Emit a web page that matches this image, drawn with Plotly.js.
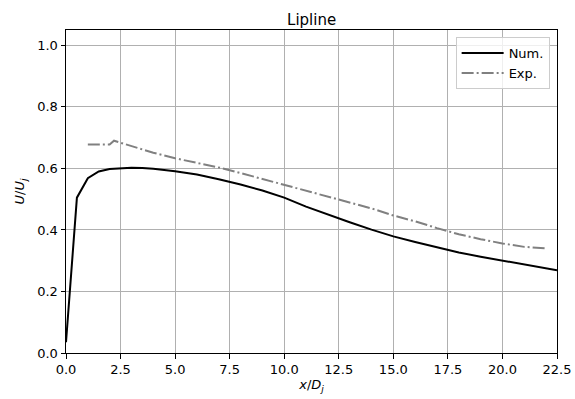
<!DOCTYPE html>
<html>
<head>
<meta charset="utf-8">
<script src="https://cdn.plot.ly/plotly-3.0.1.min.js"></script>
<style>html,body{margin:0;padding:0;background:#fff;}#chart{width:575px;height:399px;}</style>
</head>
<body>
<div id="chart"></div>
<script>
const numX = [0, 0.5, 1, 1.5, 2, 2.5, 3, 3.5, 4, 5, 6, 7, 7.5, 8, 9, 10, 11, 12, 12.5, 13, 14, 15, 16, 17, 17.5, 18, 19, 20, 21, 22, 22.5];
const numY = [0.035, 0.505, 0.568, 0.590, 0.598, 0.601, 0.602, 0.601, 0.599, 0.591, 0.580, 0.565, 0.557, 0.548, 0.528, 0.505, 0.476, 0.450, 0.438, 0.425, 0.401, 0.379, 0.361, 0.343, 0.335, 0.327, 0.313, 0.301, 0.289, 0.277, 0.269];
const expX = [1.0, 2.0, 2.2, 3, 4, 5, 6, 7, 8, 9, 10, 11, 12, 13, 14, 15, 16, 17, 18, 19, 20, 21, 22];
const expY = [0.678, 0.678, 0.690, 0.672, 0.651, 0.633, 0.618, 0.603, 0.585, 0.566, 0.545, 0.527, 0.508, 0.490, 0.470, 0.447, 0.428, 0.406, 0.386, 0.370, 0.356, 0.345, 0.340];
const xTicks = [0, 2.5, 5, 7.5, 10, 12.5, 15, 17.5, 20, 22.5];
const yTicks = [0, 0.2, 0.4, 0.6, 0.8, 1.0];

const font = 'DejaVu Sans, sans-serif';
const traces = [
  {x: numX, y: numY, mode: 'lines', name: 'Num.', line: {color: '#000000', width: 2}},
  {x: expX, y: expY, mode: 'lines', name: 'Exp.', line: {color: '#808080', width: 2, dash: '12px,3px,2px,3px'}}
];
const axisCommon = {
  showline: true, mirror: true, linecolor: '#000', linewidth: 1,
  ticks: 'outside', ticklen: 4.5, tickwidth: 1, tickcolor: '#000',
  showgrid: true, gridcolor: '#b0b0b0', gridwidth: 1,
  zeroline: false, tickfont: {family: font, size: 13, color: '#000'},
  tickformat: '.1f'
};
const layout = {
  width: 575, height: 399,
  margin: {l: 66, r: 18, t: 30, b: 46},
  paper_bgcolor: '#fff', plot_bgcolor: '#fff',
  font: {family: font, color: '#000'},
  title: {text: 'Lipline', font: {family: font, size: 15, color: '#000'}, x: 0.542, xanchor: 'center', y: 0.95, yanchor: 'middle'},
  xaxis: Object.assign({}, axisCommon, {
    range: [0, 22.5], tickmode: 'array', tickvals: xTicks,
    title: {text: '<i>x</i>/<i>D</i><sub><i>j</i></sub>', font: {family: font, size: 13, color: '#000'}, standoff: 3}
  }),
  yaxis: Object.assign({}, axisCommon, {
    range: [0, 1.05], tickmode: 'array', tickvals: yTicks,
    title: {text: '<i>U</i>/<i>U</i><sub><i>j</i></sub>', font: {family: font, size: 13, color: '#000'}, standoff: 9}
  }),
  showlegend: true,
  legend: {
    x: 0.985, y: 0.978, xanchor: 'right', yanchor: 'top',
    bgcolor: 'rgba(255,255,255,0.8)', bordercolor: '#cccccc', borderwidth: 1,
    font: {family: font, size: 13, color: '#000'}, tracegroupgap: 0, itemwidth: 42
  }
};
Plotly.newPlot('chart', traces, layout, {displayModeBar: false, staticPlot: true});
</script>
</body>
</html>
